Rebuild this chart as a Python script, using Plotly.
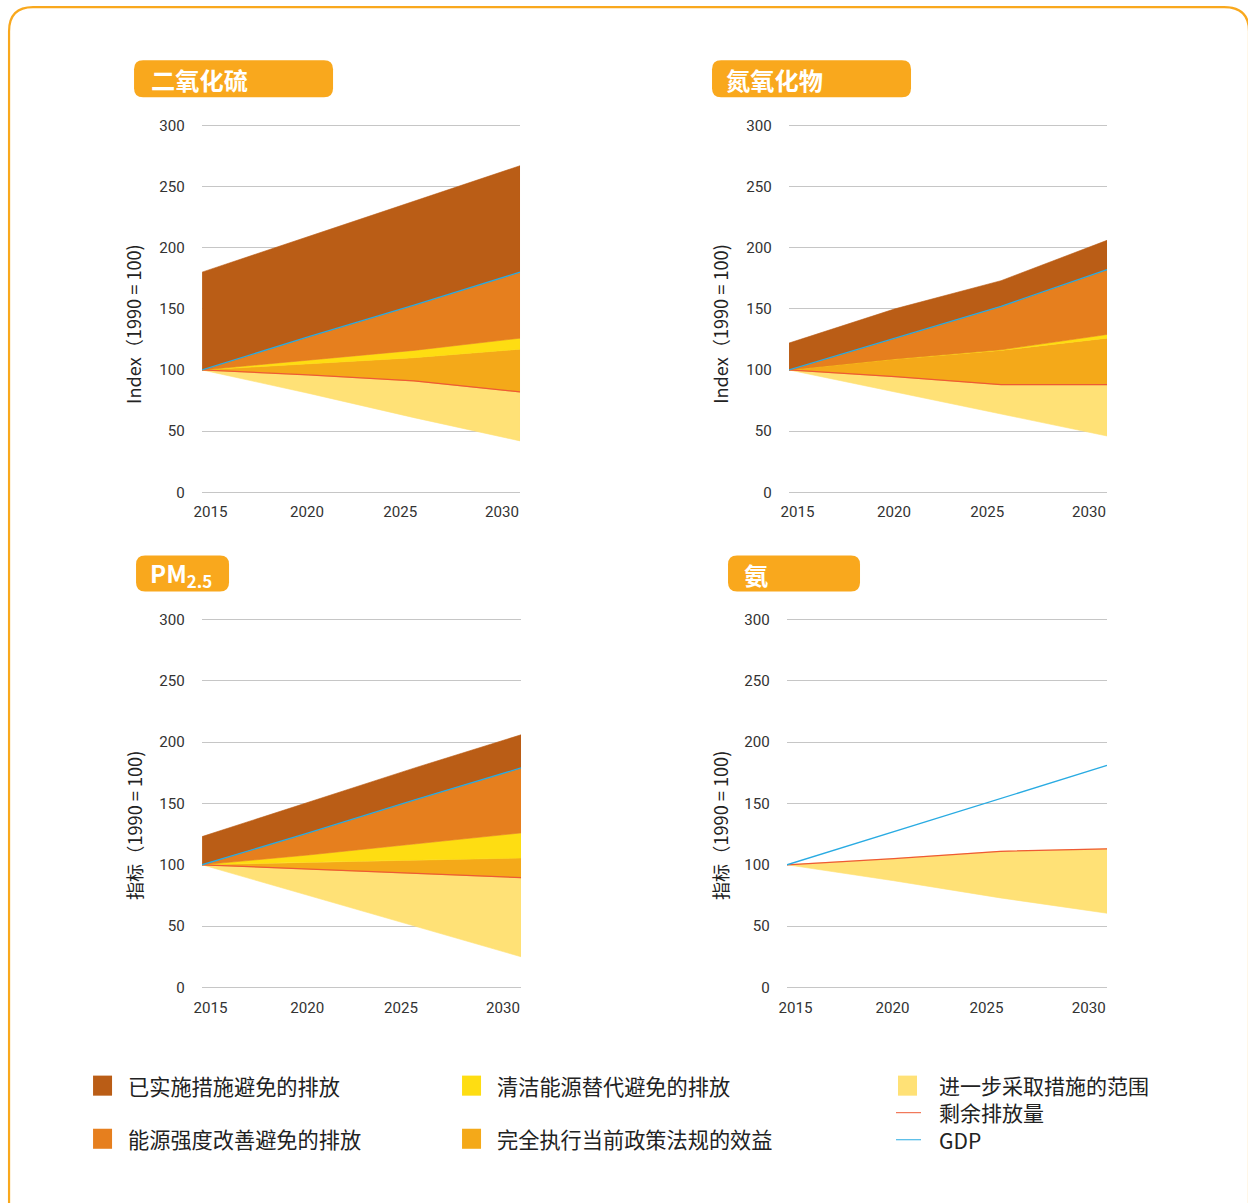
import plotly.graph_objects as go

# The photographed page shows the figure offset by the default 8px body
# margin and scaled down slightly (page 1256x1219 fitted to 1248x1203);
# positions below are in target-picture pixels and converted accordingly.
W, H = 1248, 1203
OFF = 8
KX, KY = 1248 / 1256, 1203 / 1219
KF = (KX + KY) / 2

# ---------------- data ----------------
years = [2015, 2020, 2025, 2030]
xtick_labels = ["2015", "2020", "2025", "2030"]
ytick_vals = [0, 50, 100, 150, 200, 250, 300]

# SO2 (二氧化硫)
so2_baseline = [180, 209, 238, 267]
so2_gdp = [100, 127, 153, 180]
so2_energy = [100, 108, 116, 126]
so2_clean = [100, 105, 110, 117]
so2_remaining = [100, 96, 91, 82]
so2_further = [100, 81, 61, 42]

# NOx (氮氧化物)
nox_baseline = [122, 150, 173, 206]
nox_gdp = [100, 126, 152, 182]
nox_energy = [100, 109, 116.5, 129]
nox_clean = [100, 108.8, 116, 126]
nox_remaining = [100, 94.5, 88, 88]
nox_further = [100, 82, 64, 46]

# PM2.5
pm_baseline = [123, 151, 179, 206]
pm_gdp = [100, 126, 153, 179]
pm_energy = [100, 108, 117, 126]
pm_clean = [100, 102, 104, 105.5]
pm_remaining = [100, 96.5, 93, 89.5]
pm_further = [100, 75, 50, 25]

# NH3 (氨)
nh3_gdp = [100, 127, 154, 181]
nh3_remaining = [100, 105, 111, 113]
nh3_further = [100, 87, 73, 60.5]

legend_names = ["已实施措施避免的排放", "能源强度改善避免的排放",
                "清洁能源替代避免的排放", "完全执行当前政策法规的效益",
                "进一步采取措施的范围", "剩余排放量", "GDP"]
panel_titles = ["二氧化硫", "氮氧化物", "PM<sub>2.5</sub>", "氨"]
ytitles = ["Index（1990 = 100)", "Index（1990 = 100)", "指标（1990 = 100)", "指标（1990 = 100)"]

# ---------------- style ----------------
C_BROWN = "#BA5D16"
C_ORANGE = "#E67F1E"
C_YELLOW = "#FEDD12"
C_GOLD = "#F4A919"
C_LIGHT = "#FFE176"
C_RED = "#EE5A35"
C_BLUE = "#29ABE2"
C_BOX = "#F9A81D"
GRID = "#C6C6C6"
TXT = "#333333"
CJK = "Noto Sans CJK SC"
NUM = "Roboto"

def sz(v):
    return v / KF

def fx(p):
    return (p / KX - OFF) / W

def fy(p):
    return 1 - (p / KY - OFF) / H

# panel geometry in target pixels (left, right, y of 300, y of 0)
panels = [(202, 520, 127, 493), (789, 1107, 127, 493),
          (202, 521, 620, 987), (787, 1107, 620, 987)]

fig = go.Figure()

def band(upper, lower, color, ax):
    fig.add_trace(go.Scatter(
        x=years + years[::-1], y=list(upper) + list(lower)[::-1],
        fill="toself", fillcolor=color, mode="lines",
        line=dict(color=color, width=0.6), hoverinfo="skip",
        showlegend=False, xaxis="x" + ax, yaxis="y" + ax))

def line(vals, color, ax):
    fig.add_trace(go.Scatter(
        x=years, y=vals, mode="lines", line=dict(color=color, width=1.3),
        hoverinfo="skip", showlegend=False, xaxis="x" + ax, yaxis="y" + ax))

full_sets = [
    ("", so2_baseline, so2_gdp, so2_energy, so2_clean, so2_remaining, so2_further),
    ("2", nox_baseline, nox_gdp, nox_energy, nox_clean, nox_remaining, nox_further),
    ("3", pm_baseline, pm_gdp, pm_energy, pm_clean, pm_remaining, pm_further),
]
for ax, base, gdp, en, cl, rem, fur in full_sets:
    band(rem, fur, C_LIGHT, ax)
    band(cl, rem, C_GOLD, ax)
    band(en, cl, C_YELLOW, ax)
    band(gdp, en, C_ORANGE, ax)
    band(base, gdp, C_BROWN, ax)
    line(rem, C_RED, ax)
    line(gdp, C_BLUE, ax)

band(nh3_remaining, nh3_further, C_LIGHT, "4")
line(nh3_remaining, C_RED, "4")
line(nh3_gdp, C_BLUE, "4")

xtick_pos = [2015.4, 2019.95, 2024.35, 2029.15]

layout = dict(width=W, height=H, autosize=False,
              margin=dict(l=0, r=0, t=0, b=0),
              paper_bgcolor="white", plot_bgcolor="white",
              showlegend=False)

PAD = 2  # data units of padding so grid lines at 0 and 300 are drawn
for i, (l, r, t, b) in enumerate(panels):
    sfx = "" if i == 0 else str(i + 1)
    s = (b - t) / 300.0
    top = t - s * PAD
    bot = b + s * PAD
    layout["xaxis" + sfx] = dict(
        domain=[fx(l), fx(r)], range=[2015, 2030], anchor="y" + sfx,
        showgrid=False, zeroline=False, showline=False,
        tickvals=xtick_pos, ticktext=xtick_labels,
        ticks="outside", ticklen=sz(1 + s * PAD), tickcolor="rgba(0,0,0,0)",
        tickfont=dict(family=NUM, size=sz(15), color=TXT), fixedrange=True)
    layout["yaxis" + sfx] = dict(
        domain=[fy(bot), fy(top)], range=[-PAD, 300 + PAD], anchor="x" + sfx,
        showgrid=True, gridcolor=GRID, gridwidth=1.2, zeroline=False,
        showline=False, tickvals=ytick_vals,
        ticks="outside", ticklen=sz(13), tickcolor="rgba(0,0,0,0)",
        tickfont=dict(family=NUM, size=sz(15), color=TXT), fixedrange=True)

shapes = []
annotations = []

def P(x, y):
    return f"{fx(x):.5f},{fy(y):.5f}"

def rrect(x0, y0, x1, y1, r):
    return (f"M{P(x0 + r, y0)} L{P(x1 - r, y0)} Q{P(x1, y0)} {P(x1, y0 + r)} "
            f"L{P(x1, y1 - r)} Q{P(x1, y1)} {P(x1 - r, y1)} "
            f"L{P(x0 + r, y1)} Q{P(x0, y1)} {P(x0, y1 - r)} "
            f"L{P(x0, y0 + r)} Q{P(x0, y0)} {P(x0 + r, y0)} Z")

# outer rounded border (as close to the picture edge as can be drawn)
bx, by = 9, 9
border = (f"M{P(bx, 1240)} L{P(bx, by + 24)} Q{P(bx, by)} {P(bx + 24, by)} "
          f"L{P(1224, by)} Q{P(1249, by)} {P(1249, by + 24)} L{P(1249, 1240)}")
shapes.append(dict(type="path", xref="paper", yref="paper", path=border,
                   line=dict(color=C_BOX, width=2.2), fillcolor="rgba(0,0,0,0)"))

# title boxes
boxes = [(134, 62, 333, 99, 149), (712, 62, 911, 99, 724),
         (136, 556, 229, 592, 148), (728, 556, 860, 592, 742)]
for (x0, y0, x1, y1, tx), title in zip(boxes, panel_titles):
    shapes.append(dict(type="path", xref="paper", yref="paper",
                       path=rrect(x0, y0, x1, y1, 9),
                       fillcolor=C_BOX, line=dict(width=0)))
    annotations.append(dict(xref="paper", yref="paper", x=fx(tx),
                            y=fy((y0 + y1) / 2 + 1), xanchor="left",
                            yanchor="middle", showarrow=False,
                            text=f"<b>{title}</b>",
                            font=dict(family=CJK, size=sz(24), color="white")))

# y-axis titles
ytitle_pos = [(133, 325), (720, 325), (134, 826), (720, 826)]
for (x, y), t in zip(ytitle_pos, ytitles):
    annotations.append(dict(xref="paper", yref="paper", x=fx(x), y=fy(y),
                            xanchor="center", yanchor="middle",
                            showarrow=False, textangle=-90, text=t,
                            font=dict(family=CJK, size=sz(18), color="#222222")))

# legend: swatches
sw_entries = [(93, 1085, C_BROWN, legend_names[0]),
              (93, 1138, C_ORANGE, legend_names[1]),
              (462, 1085, C_YELLOW, legend_names[2]),
              (462, 1138, C_GOLD, legend_names[3])]
for x, yc, col, name in sw_entries:
    shapes.append(dict(type="rect", xref="paper", yref="paper",
                       x0=fx(x), x1=fx(x + 19), y0=fy(yc + 10), y1=fy(yc - 10),
                       fillcolor=col, line=dict(width=0)))
    annotations.append(dict(xref="paper", yref="paper", x=fx(x + 33),
                            y=fy(yc), xanchor="left", yanchor="middle",
                            showarrow=False, text=name,
                            font=dict(family=CJK, size=sz(21), color="#222222")))

# right column: one swatch + two line keys, labels in one text block
shapes.append(dict(type="rect", xref="paper", yref="paper",
                   x0=fx(898), x1=fx(917), y0=fy(1095), y1=fy(1075),
                   fillcolor=C_LIGHT, line=dict(width=0)))
for yc, col in [(1112, C_RED), (1139, C_BLUE)]:
    shapes.append(dict(type="line", xref="paper", yref="paper",
                       x0=fx(896), x1=fx(921), y0=fy(yc), y1=fy(yc),
                       line=dict(color=col, width=1)))
annotations.append(dict(xref="paper", yref="paper", x=fx(937), y=fy(1112),
                        xanchor="left", yanchor="middle", align="left",
                        showarrow=False, text="<br>".join(legend_names[4:]),
                        font=dict(family=CJK, size=21, color="#222222")))

layout["shapes"] = shapes
layout["annotations"] = annotations
fig.update_layout(**layout)

fig.write_html("out.html", config={"displayModeBar": False})
